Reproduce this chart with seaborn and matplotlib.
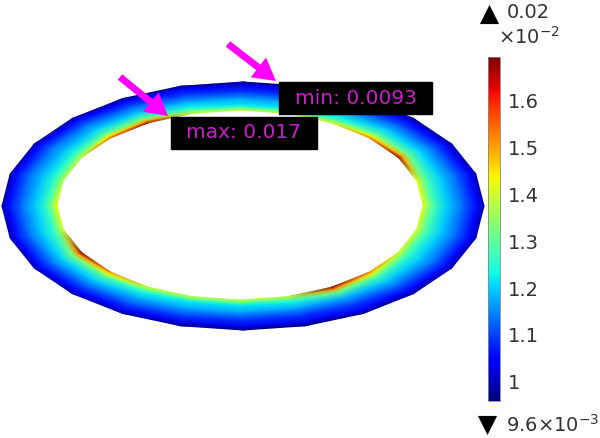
import numpy as np
import matplotlib
matplotlib.use('Agg')
import matplotlib.pyplot as plt
import seaborn as sns

# stress around the ring (x 10^-2), one value every 15 degrees, counter clockwise from the right
angles = list(range(0, 360, 15))
layer_pos = [0.0, 0.12, 0.35, 0.6, 0.82, 0.93, 1.0]

outer = [1.00, 1.00, 0.99, 0.98, 0.97, 0.96, 0.96, 0.97, 0.98, 0.99, 1.00, 1.00,
         1.00, 1.00, 1.00, 0.99, 0.98, 0.97, 0.96, 0.96, 0.97, 0.98, 0.99, 1.00]
layer1 = [1.06, 1.06, 1.06, 1.05, 1.04, 1.03, 1.03, 1.04, 1.05, 1.06, 1.06, 1.06,
          1.06, 1.06, 1.06, 1.05, 1.04, 1.03, 1.03, 1.03, 1.04, 1.05, 1.06, 1.06]
layer2 = [1.13, 1.13, 1.13, 1.12, 1.10, 1.09, 1.09, 1.10, 1.12, 1.13, 1.13, 1.13,
          1.13, 1.13, 1.13, 1.12, 1.11, 1.10, 1.09, 1.09, 1.10, 1.12, 1.13, 1.13]
layer3 = [1.20, 1.20, 1.21, 1.20, 1.18, 1.17, 1.17, 1.18, 1.20, 1.20, 1.19, 1.19,
          1.20, 1.20, 1.21, 1.20, 1.18, 1.17, 1.17, 1.17, 1.18, 1.20, 1.20, 1.20]
layer4 = [1.28, 1.27, 1.32, 1.29, 1.24, 1.22, 1.22, 1.24, 1.32, 1.29, 1.25, 1.25,
          1.27, 1.26, 1.33, 1.29, 1.24, 1.22, 1.22, 1.23, 1.32, 1.29, 1.26, 1.27]
layer5 = [1.35, 1.35, 1.50, 1.42, 1.33, 1.31, 1.31, 1.33, 1.50, 1.42, 1.33, 1.32,
          1.36, 1.34, 1.52, 1.42, 1.33, 1.31, 1.31, 1.32, 1.52, 1.42, 1.34, 1.34]
inner = [1.42, 1.42, 1.68, 1.52, 1.40, 1.38, 1.37, 1.38, 1.68, 1.54, 1.38, 1.37,
         1.42, 1.40, 1.69, 1.52, 1.38, 1.37, 1.37, 1.38, 1.69, 1.52, 1.40, 1.40]

cbar_ticks = [1.0, 1.1, 1.2, 1.3, 1.4, 1.5, 1.6]
cbar_labels = ['1', '1.1', '1.2', '1.3', '1.4', '1.5', '1.6']
vmin = 0.96
vmax = 1.693

sns.set_style('white')
plt.rcParams['font.family'] = 'DejaVu Sans'
cmap = plt.get_cmap('jet')
text_col = '#333333'
pink = '#ff00ff'

vals = np.array([outer, layer1, layer2, layer3, layer4, layer5, inner])
vals = np.hstack([vals, vals[:, :1]])
th = np.deg2rad(angles + [360])
t = np.array(layer_pos)[:, None]

# axes in pixels, y down
a = 241 + (183 - 241) * t
b = 124 + (95 - 124) * t
cx = 243 + (240 - 243) * t
cy = 206 + (205 - 206) * t
X = cx + a * np.cos(th)
Y = cy - b * np.sin(th)

fig = plt.figure(figsize=(6, 4.38), dpi=100)
ax = fig.add_axes([0, 0, 1, 1])
mesh = ax.pcolormesh(X, Y, vals, shading='gouraud', cmap=cmap, vmin=vmin, vmax=vmax)
ax.set_xlim(0, 600)
ax.set_ylim(438, 0)
ax.axis('off')

# labels
for txt, x0, y0, x1, y1 in [('min: 0.0093', 279, 82, 432, 114), ('max: 0.017', 171, 117, 317, 149)]:
    ax.fill([x0, x1, x1, x0], [y0, y0, y1, y1], color='black', zorder=5)
    ax.text((x0 + x1) / 2, (y0 + y1) / 2, txt, color='#c81fc8', fontsize=14.5,
            ha='center', va='center', zorder=6)

# arrows
for tail, tip in [((228, 44), (276, 81)), ((120, 77), (168, 116))]:
    ax.annotate('', xy=tip, xytext=tail, zorder=7,
                arrowprops=dict(facecolor=pink, edgecolor=pink, width=5, headwidth=18,
                                headlength=16, shrink=0, linewidth=0))

# colour bar
cax = fig.add_axes([487.5 / 600, 1 - 400.5 / 438, 12 / 600, 343.5 / 438])
cb = fig.colorbar(mesh, cax=cax, ticks=cbar_ticks)
cb.ax.set_yticklabels(cbar_labels)
cb.ax.tick_params(labelsize=14, labelcolor=text_col, length=2, width=0.5, color='#555555',
                  direction='in', pad=6, right=True, left=True)
cb.outline.set_edgecolor('#888888')
cb.outline.set_linewidth(0.6)

ax.scatter([489], [14], marker='^', s=190, color='black', linewidths=0)
ax.scatter([487], [425], marker='v', s=190, color='black', linewidths=0)
ax.text(507, 13, '0.02', fontsize=14, color=text_col, ha='left', va='center')
ax.text(498, 37, r'$\times$10$^{-2}$', fontsize=14, color=text_col, ha='left', va='center')
ax.text(506, 425, r'9.6$\times$10$^{-3}$', fontsize=14, color=text_col, ha='left', va='center')

plt.savefig('out.png', dpi=100)
